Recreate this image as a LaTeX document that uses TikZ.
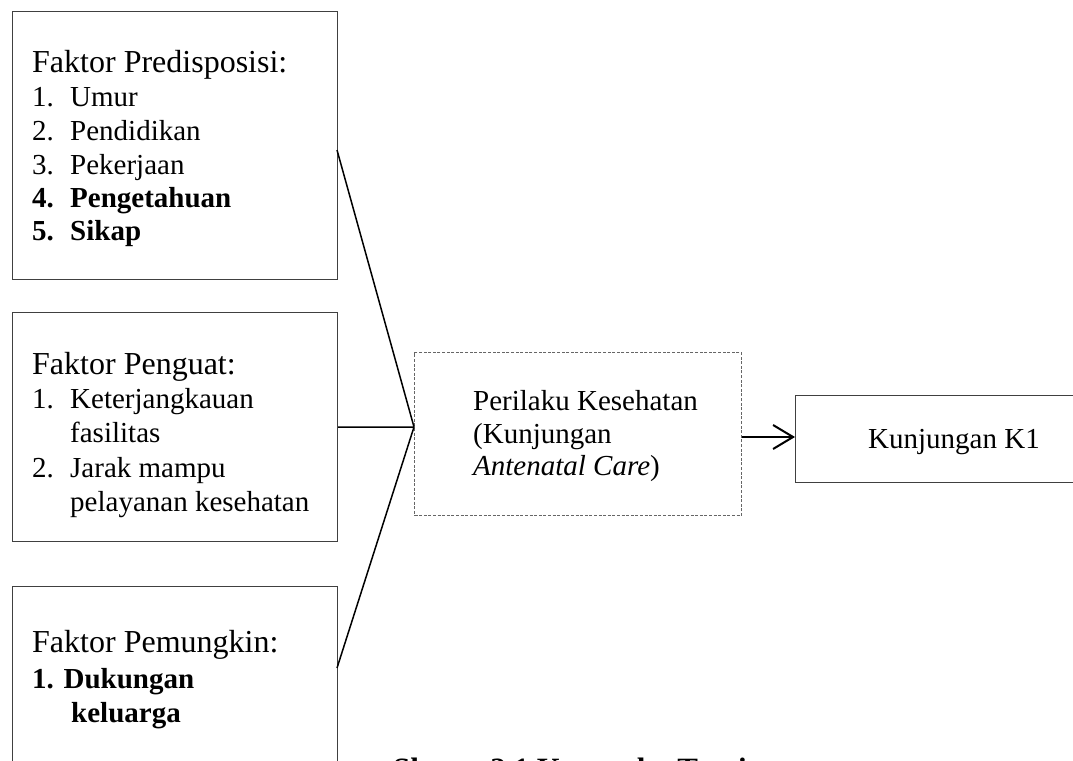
\documentclass[tikz,border=0pt]{standalone}
\usepackage{fontspec}
\setmainfont{Liberation Serif}
\usetikzlibrary{arrows.meta}
\begin{document}
\begin{tikzpicture}[x=1pt,y=-1pt,
  box/.style={draw=black!75, line width=1.1pt, anchor=north west, inner sep=0pt},
  dbox/.style={draw=black!60, dash pattern=on 3pt off 1.6pt, line width=1.2pt, anchor=north west, inner sep=0pt},
  txt/.style={anchor=base west, inner sep=0pt, font=\fontsize{29}{33}\selectfont},
  head/.style={anchor=base west, inner sep=0pt, font=\fontsize{32}{36}\selectfont},
  link/.style={line width=1.5pt, black},
  arr/.style={line width=2pt, black, -{Straight Barb[length=20pt,width=24pt,line width=2pt]}}
]
\useasboundingbox (0,0) rectangle (1073,760);
\clip (0,0) rectangle (1073,760);
\fill[white] (0,0) rectangle (1073,760);

% boxes
\node[box, minimum width=325pt, minimum height=268pt] (b1) at (12,11) {};
\node[box, minimum width=325pt, minimum height=229pt] (b2) at (12,312) {};
\node[box, minimum width=325pt, minimum height=230pt] (b3) at (12,586) {};
\node[dbox, minimum width=327pt, minimum height=163pt] (d) at (414,352) {};
\node[box, minimum width=300pt, minimum height=87pt] (k) at (795,395) {};

% box 1 text
\node[head] (h1) at (32,72) {Faktor Predisposisi:};
\node[txt] (n11) at (32,106) {1.};  \node[txt] (t11) at (70,106) {Umur};
\node[txt] (n12) at (32,140) {2.};  \node[txt] (t12) at (70,140) {Pendidikan};
\node[txt] (n13) at (32,174) {3.};  \node[txt] (t13) at (70,174) {Pekerjaan};
\node[txt,font=\fontsize{29}{33}\selectfont\bfseries] (n14) at (32,207) {4.};
\node[txt,font=\fontsize{29}{33}\selectfont\bfseries] (t14) at (70,207) {Pengetahuan};
\node[txt,font=\fontsize{29}{33}\selectfont\bfseries] (n15) at (32,240) {5.};
\node[txt,font=\fontsize{29}{33}\selectfont\bfseries] (t15) at (70,240) {Sikap};

% box 2 text
\node[head] (h2) at (32,374) {Faktor Penguat:};
\node[txt] (n21) at (32,408) {1.};  \node[txt] (t21) at (70,408) {Keterjangkauan};
\node[txt] (t21b) at (70,442) {fasilitas};
\node[txt] (n22) at (32,477) {2.};  \node[txt] (t22) at (70,477) {Jarak mampu};
\node[txt] (t22b) at (70,511) {pelayanan kesehatan};

% box 3 text
\node[head] (h3) at (32,652) {Faktor Pemungkin:};
\node[txt,font=\fontsize{29}{33}\selectfont\bfseries] (t31) at (32,688) {1. Dukungan};
\node[txt,font=\fontsize{29}{33}\selectfont\bfseries] (t31b) at (71,722) {keluarga};

% dashed box text
\node[txt] (p1) at (473,410) {Perilaku Kesehatan};
\node[txt] (p2) at (473,443) {(Kunjungan};
\node[txt] (p3) at (473,475) {\textit{Antenatal Care})};

% K1 text
\node[txt] (kt) at (868,448) {Kunjungan K1};

% connectors
\coordinate (j) at (414,427);
\coordinate (c1) at (337,150);
\coordinate (c3) at (337,668);
\draw[link] (c1) -- (j);
\draw[link] (b2.east) -- (j);
\draw[link] (c3) -- (j);
\draw[arr] (d.east |- 0,437) -- (k.west |- 0,437);

% caption (cut off at bottom)
\node[anchor=base, inner sep=0pt, font=\fontsize{31}{35}\selectfont\bfseries] (cap) at (570,779) {Skema 2.1 Kerangka Teori};
\end{tikzpicture}
\end{document}
